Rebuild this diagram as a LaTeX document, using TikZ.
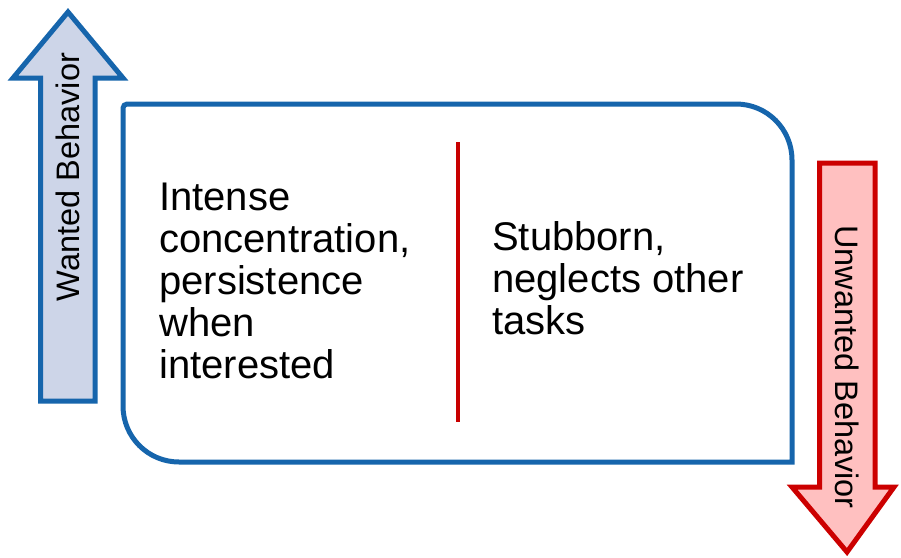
\documentclass[tikz,border=0pt]{standalone}
\usepackage{fontspec}
\setmainfont{Liberation Sans}
\usetikzlibrary{shadows}
\definecolor{bblue}{RGB}{22,101,172}
\definecolor{bfill}{RGB}{205,213,232}
\definecolor{rred}{RGB}{204,0,0}
\definecolor{rfill}{RGB}{255,192,192}
\definecolor{divred}{RGB}{200,0,0}
\tikzset{
  shade/.style={drop shadow={opacity=0.18,shadow xshift=1.5pt,shadow yshift=-2pt}},
  upshape/.style={draw=bblue,fill=bfill,line width=5pt,line join=miter,shade},
  downshape/.style={draw=rred,fill=rfill,line width=5pt,line join=miter,shade},
  boxshape/.style={draw=bblue,fill=white,line width=5pt,shade},
  divider/.style={draw=divred,line width=4pt},
  bodytext/.style={inner sep=0pt,align=left,anchor=north west,font=\fontsize{40}{42}\selectfont},
  sidetext/.style={inner sep=0pt,font=\fontsize{32.5}{34}\selectfont}
}
\begin{document}
\begin{tikzpicture}[x=1pt,y=-1pt]
\useasboundingbox (0,0) rectangle (901,557);
% main box
\path[boxshape] (127,104) -- (736,104) .. controls (767,104) and (792,129) .. (792,160)
  -- (792,462) -- (179,462) .. controls (148,462) and (123,437) .. (123,406)
  -- (123,108) .. controls (123,106) and (125,104) .. (127,104) -- cycle;
% left arrow (up)
\path[upshape] (68,12) -- (123,78) -- (95,78) -- (95,401) -- (40.5,401) -- (40.5,78) -- (13,78) -- cycle;
% right arrow (down)
\path[downshape] (819.5,163) -- (875,163) -- (875,487) -- (894,487) -- (847,552) -- (792,487) -- (819.5,487) -- cycle;
% divider
\coordinate (dtop) at (458,142);
\coordinate (dbot) at (458,422);
\draw[divider] (dtop) -- (dbot);
% texts
\node[bodytext] (left) at (159,182.5) {Intense\\concentration,\\persistence\\when\\interested};
\node[bodytext] (right) at (492,221.5) {Stubborn,\\neglects other\\tasks};
\node[sidetext,rotate=90] (wanted) at (67.5,177) {Wanted Behavior};
\node[sidetext,rotate=-90] (unwanted) at (847,367) {Unwanted Behavior};
\end{tikzpicture}
\end{document}
